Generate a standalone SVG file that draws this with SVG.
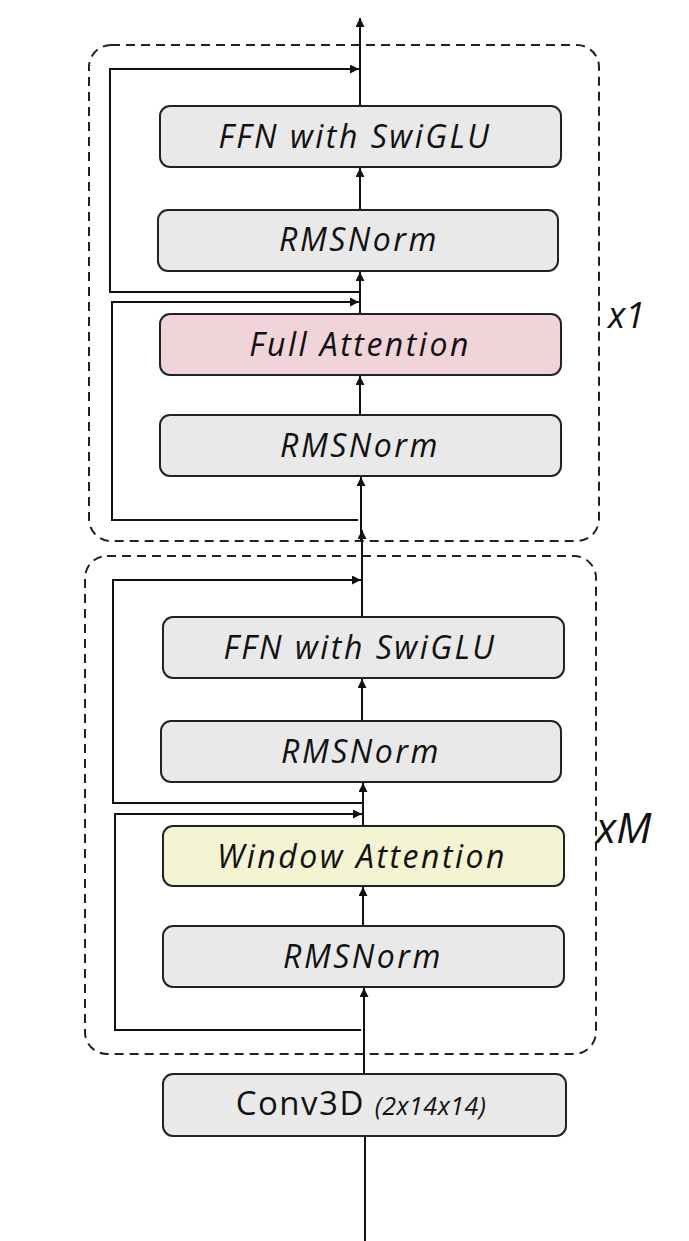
<svg xmlns="http://www.w3.org/2000/svg" width="689" height="1241" viewBox="0 0 689 1241">
  <defs>
    <marker id="ah" viewBox="0 0 10 10" refX="10" refY="5" markerWidth="10" markerHeight="9" markerUnits="userSpaceOnUse" orient="auto">
      <path d="M0,0 L10,5 L0,10 z" fill="#111"/>
    </marker>
  </defs>
  <style>
    .block { fill: none; stroke: #222; stroke-width: 2; stroke-dasharray: 9 6; }
    .node rect { stroke: #222; stroke-width: 2; }
    .gray { fill: #e9e9e9; }
    .pink { fill: #f1d4d9; }
    .yellow { fill: #f4f3d2; }
    .node text { font-family: "Open Sans", "Lato", sans-serif; font-style: italic; font-weight: 500; font-size: 32px; letter-spacing: 2.5px; fill: #111; text-anchor: middle; }
    .conn path, .conn line { fill: none; stroke: #111; stroke-width: 2; }
    .rep { font-family: "Open Sans", "Lato", sans-serif; font-style: italic; font-weight: 500; fill: #111; }
  </style>
  <rect width="689" height="1241" fill="#ffffff"/>

  <!-- repeated block outlines -->
  <rect class="block" x="89" y="45" width="510" height="496" rx="22"/>
  <rect class="block" x="85" y="556" width="511" height="498" rx="22"/>

  <!-- connectors -->
  <g class="conn">
    <!-- upper block main path -->
    <line x1="360" y1="106" x2="360" y2="18" marker-end="url(#ah)"/>
    <line x1="360" y1="210" x2="360" y2="168" marker-end="url(#ah)"/>
    <line x1="360" y1="314" x2="360" y2="272" marker-end="url(#ah)"/>
    <line x1="360" y1="415" x2="360" y2="376" marker-end="url(#ah)"/>
    <line x1="361" y1="541" x2="361" y2="477" marker-end="url(#ah)"/>
    <!-- upper block residuals -->
    <path d="M360,292 H110 V69 H359" marker-end="url(#ah)"/>
    <path d="M358,520 H112 V302 H359" marker-end="url(#ah)"/>
    <!-- lower block main path -->
    <line x1="362" y1="617" x2="362" y2="530" marker-end="url(#ah)"/>
    <line x1="362" y1="721" x2="362" y2="679" marker-end="url(#ah)"/>
    <line x1="363" y1="826" x2="363" y2="783" marker-end="url(#ah)"/>
    <line x1="363" y1="926" x2="363" y2="887" marker-end="url(#ah)"/>
    <line x1="364" y1="1074" x2="364" y2="988" marker-end="url(#ah)"/>
    <line x1="365" y1="1241" x2="365" y2="1136"/>
    <!-- lower block residuals -->
    <path d="M362,803 H113 V580 H361" marker-end="url(#ah)"/>
    <path d="M361,1030 H115 V814 H362" marker-end="url(#ah)"/>
  </g>

  <!-- upper block nodes -->
  <g id="ffn1" class="node">
    <rect class="gray" x="160" y="106" width="401" height="61" rx="10"/>
    <text x="355" y="148">FFN with SwiGLU</text>
  </g>
  <g id="norm1b" class="node">
    <rect class="gray" x="158" y="210" width="400" height="61" rx="10"/>
    <text x="359" y="251">RMSNorm</text>
  </g>
  <g id="fullattn" class="node">
    <rect class="pink" x="160" y="314" width="401" height="61" rx="10"/>
    <text x="360" y="356">Full Attention</text>
  </g>
  <g id="norm1a" class="node">
    <rect class="gray" x="160" y="415" width="401" height="61" rx="10"/>
    <text x="360" y="457">RMSNorm</text>
  </g>

  <!-- lower block nodes -->
  <g id="ffn2" class="node">
    <rect class="gray" x="163" y="617" width="401" height="61" rx="10"/>
    <text x="360" y="659">FFN with SwiGLU</text>
  </g>
  <g id="norm2b" class="node">
    <rect class="gray" x="161" y="721" width="400" height="61" rx="10"/>
    <text x="361" y="763">RMSNorm</text>
  </g>
  <g id="winattn" class="node">
    <rect class="yellow" x="163" y="826" width="401" height="60" rx="10"/>
    <text x="362" y="868">Window Attention</text>
  </g>
  <g id="norm2a" class="node">
    <rect class="gray" x="163" y="926" width="401" height="61" rx="10"/>
    <text x="363" y="968">RMSNorm</text>
  </g>

  <!-- patch embedding -->
  <g id="conv3d" class="node">
    <rect class="gray" x="163" y="1074" width="403" height="62" rx="10"/>
    <text x="361" y="1115" style="letter-spacing:1.5px"><tspan font-style="normal" font-size="33">Conv3D</tspan> <tspan font-size="25" letter-spacing="0.5">(2x14x14)</tspan></text>
  </g>

  <!-- repeat counts -->
  <text class="rep" x="608" y="328" font-size="36">x1</text>
  <text class="rep" x="596" y="843" font-size="42">xM</text>
</svg>
